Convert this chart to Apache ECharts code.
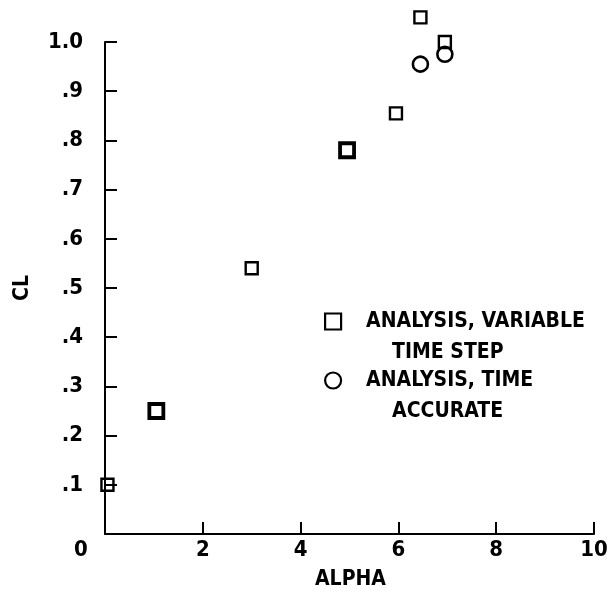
<!DOCTYPE html>
<html>
<head>
<meta charset="utf-8">
<script src="https://cdn.jsdelivr.net/npm/echarts@6/dist/echarts.min.js"></script>
<style>
  html, body { margin: 0; padding: 0; background: #fff; }
  #chart { width: 611px; height: 596px; }
</style>
</head>
<body>
<div id="chart"></div>
<script>
// Lift coefficient vs angle of attack
const stepAlpha = [0.05, 3.0, 5.95, 6.45, 6.95];      // variable time step runs
const stepCL    = [0.10, 0.54, 0.855, 1.05, 1.00];
const repeatAlpha = [1.05, 4.95];                      // repeated variable-step runs
const repeatCL    = [0.25, 0.78];
const accAlpha = [6.45, 6.95];                          // time accurate runs
const accCL    = [0.955, 0.975];

const xTicks = [0, 2, 4, 6, 8, 10];
const yTickLabels = ['0', '.1', '.2', '.3', '.4', '.5', '.6', '.7', '.8', '.9', '1.0'];

const STEP_NAME = 'ANALYSIS, VARIABLE TIME STEP';
const ACC_NAME = 'ANALYSIS, TIME ACCURATE';
const legendLines = {
  [STEP_NAME]: ['ANALYSIS, VARIABLE', 'TIME STEP'],
  [ACC_NAME]: ['ANALYSIS, TIME', 'ACCURATE']
};

const FONT = '"DejaVu Sans Condensed", "DejaVu Sans", sans-serif';
const pairs = (xs, ys) => xs.map((x, i) => [x, ys[i]]);

const hollow = { color: 'rgba(0,0,0,0)', borderColor: '#000', opacity: 1 };

const chart = echarts.init(document.getElementById('chart'), null, { renderer: 'canvas' });
chart.setOption({
  backgroundColor: '#fff',
  animation: false,
  textStyle: { fontFamily: FONT, fontWeight: 'bold', color: '#000' },
  // x-axis caption, centred under the plot area
  title: {
    text: 'ALPHA', left: 315, top: 569, padding: 0,
    textStyle: { fontFamily: FONT, fontWeight: 'bold', fontSize: 21, color: '#000' }
  },
  grid: { left: 105, right: 17, top: 42, bottom: 62, containLabel: false, outerBoundsMode: 'none' },
  xAxis: {
    type: 'value', min: 0, max: 10, interval: 2,
    axisLine: { show: true, lineStyle: { color: '#000', width: 2 } },
    axisTick: { show: true, inside: true, length: 12, lineStyle: { color: '#000', width: 2 } },
    splitLine: { show: false },
    axisLabel: {
      margin: 5, fontFamily: FONT, fontWeight: 'bold', fontSize: 22, color: '#000',
      formatter: v => (v === 0 ? '{o|0}' : String(v)),
      rich: { o: { fontFamily: FONT, fontWeight: 'bold', fontSize: 22, color: '#000', padding: [0, 48, 0, 0] } }
    }
  },
  yAxis: {
    type: 'value', min: 0, max: 1.0, interval: 0.1,
    name: 'CL', nameLocation: 'middle', nameGap: 72, nameRotate: 90, nameMoveOverlap: false,
    nameTextStyle: { fontFamily: FONT, fontWeight: 'bold', fontSize: 21, color: '#000' },
    axisLine: { show: true, lineStyle: { color: '#000', width: 2 } },
    axisTick: { show: true, inside: true, length: 12, lineStyle: { color: '#000', width: 2 } },
    splitLine: { show: false },
    axisLabel: {
      margin: 22, fontFamily: FONT, fontWeight: 'bold', fontSize: 22, color: '#000',
      showMinLabel: false,
      formatter: v => yTickLabels[Math.round(v * 10)]
    }
  },
  legend: {
    orient: 'vertical', left: 324, top: 280, padding: 0, itemGap: -24,
    itemWidth: 16, itemHeight: 16,
    data: [{ name: STEP_NAME, icon: 'rect' }, { name: ACC_NAME, icon: 'circle' }],
    itemStyle: { color: 'rgba(0,0,0,0)', borderColor: '#000', borderWidth: 2.2, opacity: 1 },
    formatter: name => '{p|}\n{a|' + legendLines[name][0] + '}\n{b|' + legendLines[name][1] + '}',
    textStyle: {
      fontFamily: FONT, fontWeight: 'bold', fontSize: 21, color: '#000',
      rich: {
        p: { lineHeight: 31, fontSize: 21 },
        a: { lineHeight: 31, fontFamily: FONT, fontWeight: 'bold', fontSize: 21, color: '#000', padding: [0, 0, 0, 20] },
        b: { lineHeight: 31, fontFamily: FONT, fontWeight: 'bold', fontSize: 21, color: '#000', padding: [0, 0, 0, 46] }
      }
    }
  },
  series: [
    {
      name: STEP_NAME, type: 'scatter', clip: false, symbol: 'rect', symbolSize: 12,
      itemStyle: Object.assign({ borderWidth: 2.4 }, hollow),
      data: pairs(stepAlpha, stepCL)
    },
    {
      name: STEP_NAME, type: 'scatter', clip: false, symbol: 'rect', symbolSize: 14,
      itemStyle: Object.assign({ borderWidth: 3.8 }, hollow),
      data: pairs(repeatAlpha, repeatCL)
    },
    {
      name: ACC_NAME, type: 'scatter', clip: false, symbol: 'circle', symbolSize: 15,
      itemStyle: Object.assign({ borderWidth: 2.6 }, hollow),
      data: pairs(accAlpha, accCL)
    }
  ]
});
</script>
</body>
</html>
